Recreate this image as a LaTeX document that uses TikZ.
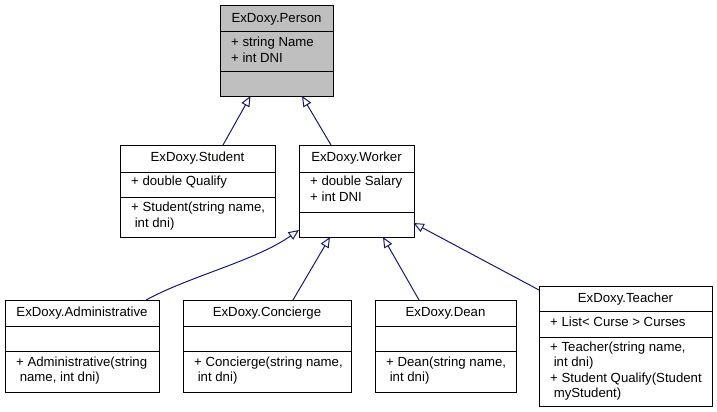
\documentclass[tikz,border=0pt]{standalone}
\usepackage{fontspec}
\setmainfont{Liberation Sans}
\usetikzlibrary{arrows.meta}
\definecolor{edgeblue}{HTML}{191970}
\definecolor{boxgray}{HTML}{BFBFBF}
\tikzset{
  classbox/.style={draw=black, line width=1pt, fill=white, inner sep=0pt, anchor=north west},
  sep/.style={draw=black, line width=1pt},
  txt/.style={inner sep=0pt, font=\fontsize{13.2}{15}\selectfont, anchor=base west},
  ttl/.style={inner sep=0pt, font=\fontsize{13.2}{15}\selectfont, anchor=base},
  inh/.style={draw=edgeblue, line width=1pt, -{Triangle[open, length=10.5pt, width=9pt, fill=white]}},
}
\begin{document}
\begin{tikzpicture}[x=1pt, y=-1pt]
\useasboundingbox (0,0) rectangle (717,412);

% ---- Person ----
\node[classbox, fill=boxgray, minimum width=113pt, minimum height=91pt] (person) at (220,5) {};
\draw[sep] (220,32) -- (333,32);
\draw[sep] (220,71) -- (333,71);
\node[ttl] (person-t) at (276.5,22.5) {ExDoxy.Person};
\node[txt] (person-a1) at (231,46.5) {+ string Name};
\node[txt] (person-a2) at (231,62.5) {+ int DNI};

% ---- Student ----
\node[classbox, minimum width=155pt, minimum height=92pt] (student) at (120,145) {};
\draw[sep] (120,172) -- (275,172);
\draw[sep] (120,197) -- (275,197);
\node[ttl] (student-t) at (197.5,161) {ExDoxy.Student};
\node[txt] (student-a1) at (131,185.5) {+ double Qualify};
\node[txt] (student-m1) at (131,211.5) {+ Student(string name,};
\node[txt] (student-m2) at (134.6,227) {int dni)};

% ---- Worker ----
\node[classbox, minimum width=115pt, minimum height=92pt] (worker) at (299,145) {};
\draw[sep] (299,172) -- (414,172);
\draw[sep] (299,212) -- (414,212);
\node[ttl] (worker-t) at (356.5,161) {ExDoxy.Worker};
\node[txt] (worker-a1) at (310,185.5) {+ double Salary};
\node[txt] (worker-a2) at (310,201.5) {+ int DNI};

% ---- Administrative ----
\node[classbox, minimum width=154pt, minimum height=92pt] (admin) at (5,300) {};
\draw[sep] (5,326) -- (159,326);
\draw[sep] (5,351) -- (159,351);
\node[ttl] (admin-t) at (82,316.5) {ExDoxy.Administrative};
\node[txt] (admin-m1) at (16,366) {+ Administrative(string};
\node[txt] (admin-m2) at (19.6,381.5) {name, int dni)};

% ---- Concierge ----
\node[classbox, minimum width=168pt, minimum height=92pt] (concierge) at (183,300) {};
\draw[sep] (183,326) -- (351,326);
\draw[sep] (183,351) -- (351,351);
\node[ttl] (concierge-t) at (267,316.5) {ExDoxy.Concierge};
\node[txt] (concierge-m1) at (194,366) {+ Concierge(string name,};
\node[txt] (concierge-m2) at (197.6,381.5) {int dni)};

% ---- Dean ----
\node[classbox, minimum width=141pt, minimum height=92pt] (dean) at (375,300) {};
\draw[sep] (375,326) -- (516,326);
\draw[sep] (375,351) -- (516,351);
\node[ttl] (dean-t) at (445.5,316.5) {ExDoxy.Dean};
\node[txt] (dean-m1) at (386,366) {+ Dean(string name,};
\node[txt] (dean-m2) at (389.6,381.5) {int dni)};

% ---- Teacher ----
\node[classbox, minimum width=173pt, minimum height=120pt] (teacher) at (539,286) {};
\draw[sep] (539,311.5) -- (712,311.5);
\draw[sep] (539,337) -- (712,337);
\node[ttl] (teacher-t) at (625.5,302) {ExDoxy.Teacher};
\node[txt] (teacher-a1) at (550,326) {+ List< Curse > Curses};
\node[txt] (teacher-m1) at (550,351) {+ Teacher(string name,};
\node[txt] (teacher-m2) at (553.6,366.5) {int dni)};
\node[txt] (teacher-m3) at (550,382) {+ Student Qualify(Student};
\node[txt] (teacher-m4) at (553.6,397.5) {myStudent)};

% ---- connector end points ----
\coordinate (student-up) at (223,145);
\coordinate (person-in1) at (250.5,96);
\coordinate (worker-up) at (331,145);
\coordinate (person-in2) at (302,96);
\coordinate (admin-up) at (146,300);
\coordinate (worker-in1) at (299,230);
\coordinate (concierge-up) at (293,300);
\coordinate (worker-in2) at (330,237);
\coordinate (dean-up) at (419,300);
\coordinate (worker-in3) at (383,237);
\coordinate (teacher-up) at (539,290);
\coordinate (worker-in4) at (413.5,223);

% ---- inheritance connectors ----
\draw[inh] (student-up) -- (person-in1);
\draw[inh] (worker-up) -- (person-in2);
\draw[inh] (admin-up) .. controls (190,276) and (255,261) .. (worker-in1);
\draw[inh] (concierge-up) -- (worker-in2);
\draw[inh] (dean-up) -- (worker-in3);
\draw[inh] (teacher-up) -- (worker-in4);
\end{tikzpicture}
\end{document}
